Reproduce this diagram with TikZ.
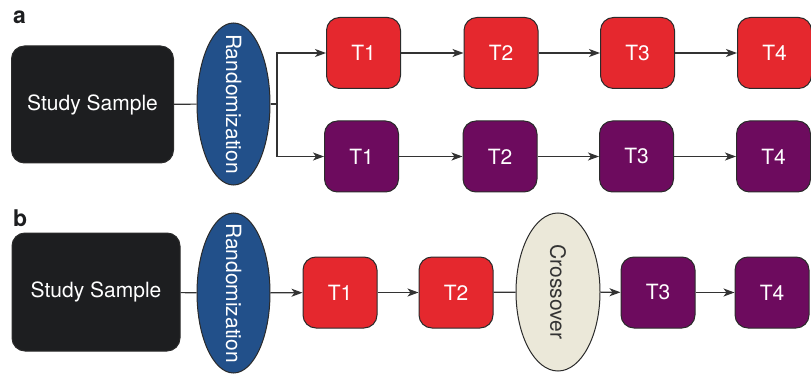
\documentclass[tikz,border=0pt]{standalone}
\usepackage{fontspec}
\setmainfont{TeX Gyre Heros}
\usetikzlibrary{arrows.meta,shapes,positioning,calc}
\definecolor{Ink}{HTML}{1D1E20}
\definecolor{Blue}{HTML}{22508A}
\definecolor{Red}{HTML}{E5282E}
\definecolor{Plum}{HTML}{6D0B5E}
\definecolor{Cream}{HTML}{EBE8D9}
\definecolor{Edge}{HTML}{2B2B2B}
\definecolor{Wire}{HTML}{333333}

\begin{document}
\begin{tikzpicture}
[x=1pt,y=-1pt,
every node/.style={font=\fontsize{21}{25}\selectfont},
box/.style={rectangle,rounded corners=13pt,draw=Edge,line width=1pt,text=white,
    minimum width=74pt,minimum height=71pt,inner sep=0pt},
study/.style={box,fill=Ink,minimum width=162pt,minimum height=117pt},
armA/.style={box,fill=Red},
armB/.style={box,fill=Plum},
coin/.style={ellipse,draw=Edge,line width=1pt,rotate=-90,inner xsep=-40pt,
    inner ysep=0pt,minimum width=161pt,minimum height=73pt},
tag/.style={font=\bfseries\fontsize{23}{26}\selectfont,text=Ink,inner sep=0pt,anchor=base west},
link/.style={line width=1.2pt,Wire},
flow/.style={link,-{Stealth[length=11pt,width=8pt,inset=3pt]}}]

\useasboundingbox (0,0) rectangle (811,374);

%% panel a
\node[tag] (la) at (13,24) {a};
\node[study] (ssA) at (92.5,104.5) {Study Sample};
\node[coin,fill=Blue,text=white,minimum width=162pt] (randA) at (233.5,104) {Randomization};
\coordinate (fork) at (277,104);

\node[armA] (a1) at (363.5,53) {T1};
\node[armA] (a2) at (501,53) {T2};
\node[armA] (a3) at (637.5,53) {T3};
\node[armA] (a4) at (774.5,53) {T4};

\node[armB] (b1) at (361.5,156.5) {T1};
\node[armB] (b2) at (500,156.5) {T2};
\node[armB] (b3) at (636.5,156.5) {T3};
\node[armB] (b4) at (773.5,156.5) {T4};

\draw[link] (ssA) -- (randA);
\draw[link] (randA) -- (fork);
\draw[flow] (fork) |- (a1);
\draw[flow] (fork) |- (b1);
\foreach \i/\j in {1/2,2/3,3/4}{
  \draw[flow] (a\i) -- (a\j);
  \draw[flow] (b\i) -- (b\j);
}

%% panel b
\node[tag] (lb) at (13,226) {b};
\node[study,minimum width=168pt,minimum height=118pt] (ssB) at (96,292) {Study Sample};
\node[coin,fill=Blue,text=white,minimum width=160pt] (randB) at (233.5,293) {Randomization};
\node[armA] (c1) at (340,292.5) {T1};
\node[armA] (c2) at (456,292.5) {T2};
\node[coin,fill=Cream,text=Wire,minimum width=158pt,minimum height=84pt] (cross) at (558,292) {Crossover};
\node[armB] (c3) at (658,292.5) {T3};
\node[armB] (c4) at (772,292.5) {T4};

\draw[link] (ssB) -- (randB);
\draw[flow] (randB) -- (c1);
\draw[flow] (c1) -- (c2);
\draw[link] (c2) -- (cross);
\draw[flow] (cross) -- (c3);
\draw[flow] (c3) -- (c4);

\end{tikzpicture}
\end{document}
